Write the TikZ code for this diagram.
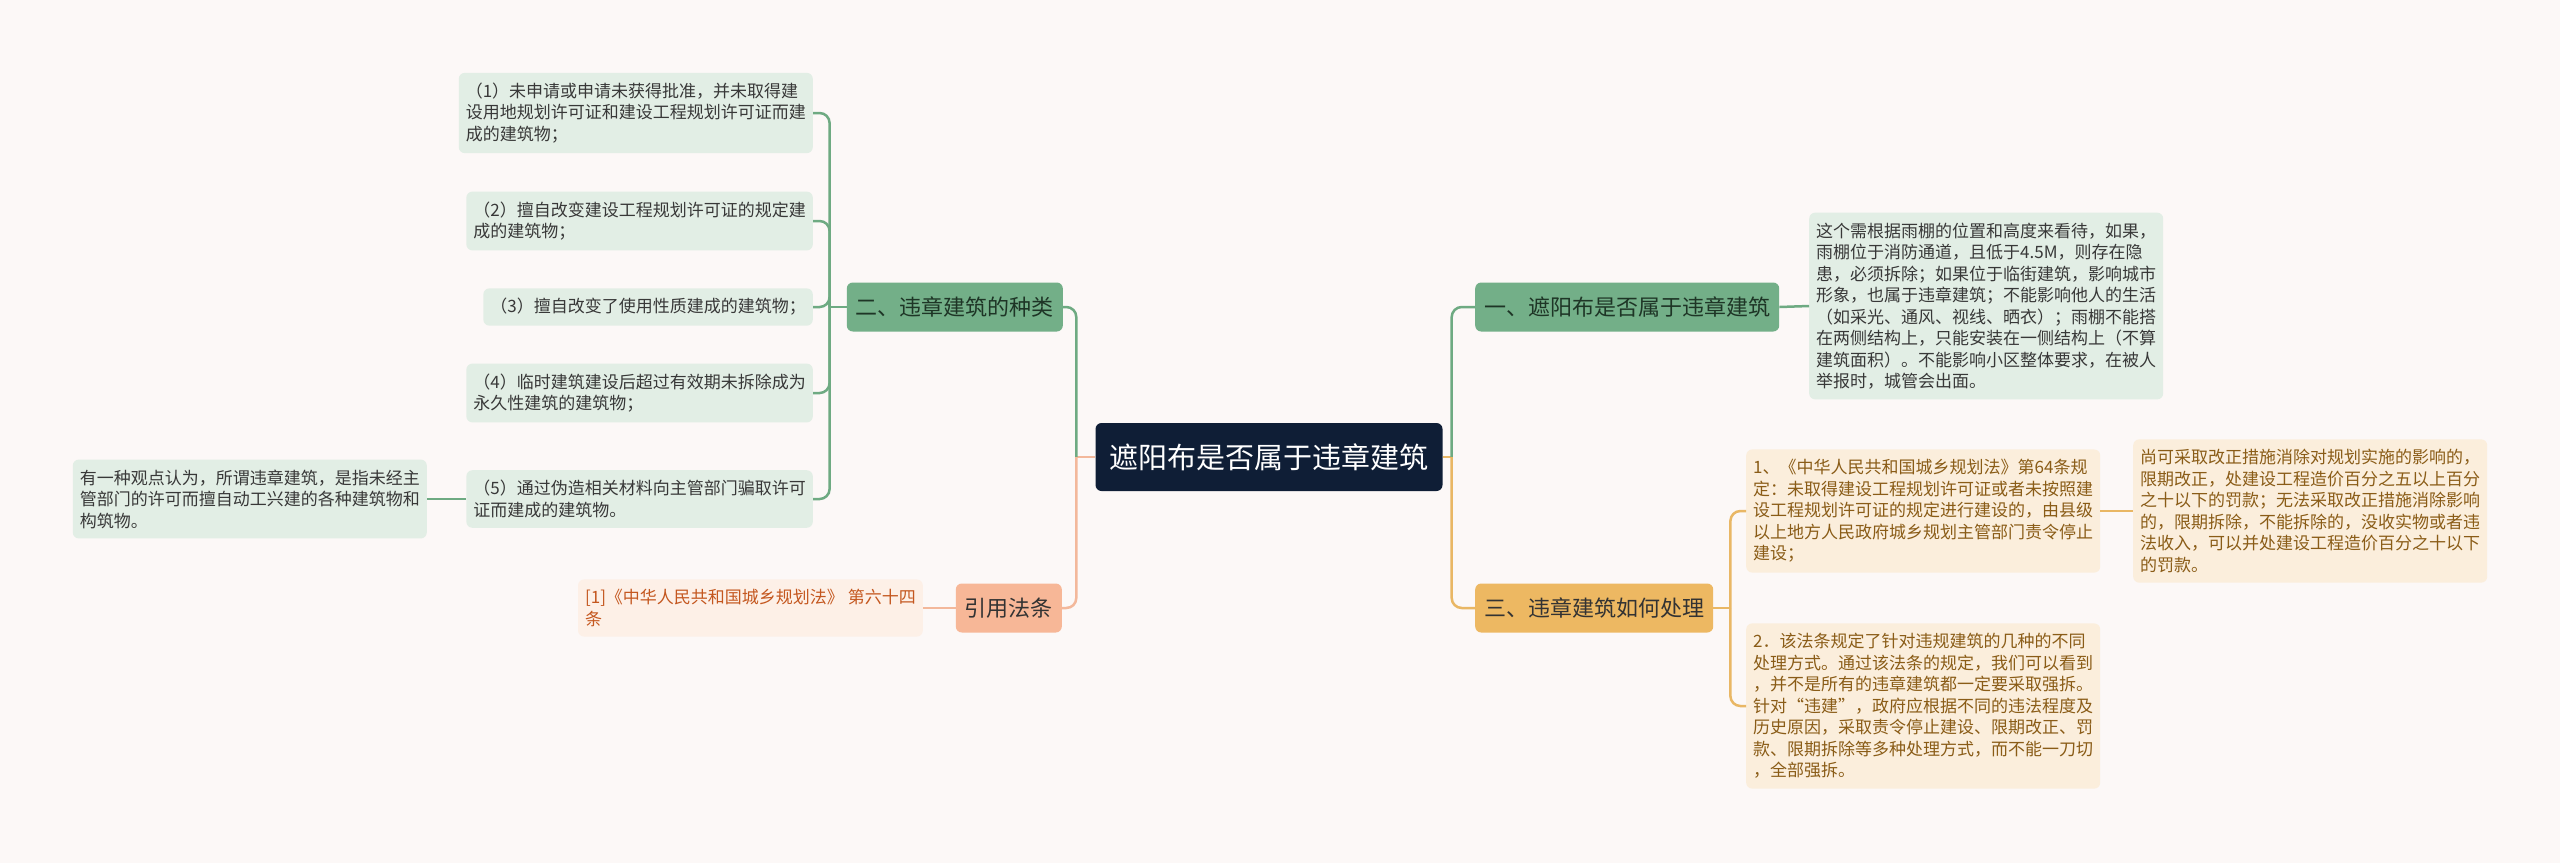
\documentclass[tikz,border=0pt]{standalone}
\usepackage{fontspec}
\setmainfont{Noto Sans CJK SC}
\usepackage{xcolor}
\usepackage{tikz}
\usetikzlibrary{positioning,calc}
\definecolor{paper}{HTML}{FCF8F7}
\definecolor{rootnavy}{HTML}{0F1E36}
\definecolor{sage}{HTML}{73AF88}
\definecolor{sagelight}{HTML}{E2EEE5}
\definecolor{sageline}{HTML}{6EAA82}
\definecolor{sageink}{HTML}{1E3526}
\definecolor{amber}{HTML}{EDB862}
\definecolor{amberlight}{HTML}{FBEEDC}
\definecolor{amberline}{HTML}{E9B765}
\definecolor{amberink}{HTML}{8A5C17}
\definecolor{peach}{HTML}{F7B797}
\definecolor{peachlight}{HTML}{FDF0E7}
\definecolor{peachline}{HTML}{F3B89B}
\definecolor{peachink}{HTML}{C4571F}
\colorlet{leafink}{black!78}
\newcommand{\rootfont}{\fontsize{29pt}{34pt}\selectfont}
\newcommand{\topicfont}{\fontsize{22pt}{26pt}\selectfont}
\newcommand{\leaffont}{\fontsize{17pt}{21.5pt}\selectfont}

\begin{document}
\begin{tikzpicture}[
  x=1pt, y=-1pt,
  every node/.style={font=\leaffont},        % leaf text size by default
  rootbox/.style={rectangle, rounded corners=6pt, fill=rootnavy, text=white,
    font=\rootfont, minimum width=347pt, minimum height=68pt, inner sep=0pt},
  topic/.style={rectangle, rounded corners=6pt, font=\topicfont,
    minimum height=49pt, inner xsep=9pt, inner ysep=0pt},
  leaf/.style={rectangle, rounded corners=6pt, align=left,
    inner xsep=7pt, inner ysep=10pt},
  sageleaf/.style={leaf, fill=sagelight, text=leafink},
  amberleaf/.style={leaf, fill=amberlight, text=amberink},
  peachleaf/.style={leaf, fill=peachlight, text=peachink},
  link/.style={line width=2.5pt, rounded corners=10pt}
]

% ---------- Background ----------
\fill[paper] (0,0) rectangle (2560,863);
\useasboundingbox (0,0) rectangle (2560,863);

% ---------- Root ----------
\node[rootbox] (root) at (1269,457) {遮阳布是否属于违章建筑};

% ---------- Topics ----------
\node[topic, fill=sage, text=sageink, anchor=west] (b1) at (1475,307) {一、遮阳布是否属于违章建筑};
\node[topic, fill=amber, text=black!80, anchor=west] (b3) at (1475,608) {三、违章建筑如何处理};
\node[topic, fill=sage, text=sageink, anchor=east] (b2) at (1063,307) {二、违章建筑的种类};
\node[topic, fill=peach, text=black!80, anchor=east] (cite) at (1062,608) {引用法条};

% ---------- Right leaves ----------
\node[sageleaf, anchor=west] (r1) at (1809,306) {%
  这个需根据雨棚的位置和高度来看待，如果，\\
  雨棚位于消防通道，且低于4.5M，则存在隐\\
  患，必须拆除；如果位于临街建筑，影响城市\\
  形象，也属于违章建筑；不能影响他人的生活\\
  （如采光、通风、视线、晒衣）；雨棚不能搭\\
  在两侧结构上，只能安装在一侧结构上（不算\\
  建筑面积）。不能影响小区整体要求，在被人\\
  举报时，城管会出面。};

\node[amberleaf, anchor=west] (r3a) at (1746,511) {%
  1、《中华人民共和国城乡规划法》第64条规\\
  定：未取得建设工程规划许可证或者未按照建\\
  设工程规划许可证的规定进行建设的，由县级\\
  以上地方人民政府城乡规划主管部门责令停止\\
  建设；};

\node[amberleaf, anchor=west] (r3ax) at (2133,511) {%
  尚可采取改正措施消除对规划实施的影响的，\\
  限期改正，处建设工程造价百分之五以上百分\\
  之十以下的罚款；无法采取改正措施消除影响\\
  的，限期拆除，不能拆除的，没收实物或者违\\
  法收入，可以并处建设工程造价百分之十以下\\
  的罚款。};

\node[amberleaf, anchor=west] (r3b) at (1746,706) {%
  2．该法条规定了针对违规建筑的几种的不同\\
  处理方式。通过该法条的规定，我们可以看到\\
  ，并不是所有的违章建筑都一定要采取强拆。\\
  针对“违建”，政府应根据不同的违法程度及\\
  历史原因，采取责令停止建设、限期改正、罚\\
  款、限期拆除等多种处理方式，而不能一刀切\\
  ，全部强拆。};

% ---------- Left leaves ----------
\node[sageleaf, anchor=east] (k1) at (813,113) {%
  （1）未申请或申请未获得批准，并未取得建\\
  设用地规划许可证和建设工程规划许可证而建\\
  成的建筑物；};
\node[sageleaf, anchor=east] (k2) at (813,221) {%
  （2）擅自改变建设工程规划许可证的规定建\\
  成的建筑物；};
\node[sageleaf, anchor=east] (k3) at (813,307) {（3）擅自改变了使用性质建成的建筑物；};
\node[sageleaf, anchor=east] (k4) at (813,393) {%
  （4）临时建筑建设后超过有效期未拆除成为\\
  永久性建筑的建筑物；};
\node[sageleaf, anchor=east] (k5) at (813,499) {%
  （5）通过伪造相关材料向主管部门骗取许可\\
  证而建成的建筑物。};
\node[sageleaf, anchor=east] (note) at (427,499) {%
  有一种观点认为，所谓违章建筑，是指未经主\\
  管部门的许可而擅自动工兴建的各种建筑物和\\
  构筑物。};

\node[peachleaf, anchor=east] (ref) at (923,608) {%
  [1]《中华人民共和国城乡规划法》 第六十四\\
  条};

% ---------- Junctions ----------
\coordinate (jR) at ($(root.east)+(9,0)$);
\coordinate (jL) at ($(root.west)+(-19,0)$);
\coordinate (jB2) at ($(b2.west)+(-17,0)$);
\coordinate (jB3) at ($(b3.east)+(17,0)$);

% ---------- Links ----------
\draw[link, draw=amberline] (root.east) -- (jR);
\draw[link, draw=sageline] (jR) |- (b1.west);
\draw[link, draw=amberline] (jR) |- (b3.west);
\draw[link, draw=sageline] (b1.east) -- (r1.west);
\draw[link, draw=amberline] (b3.east) -- (jB3);
\draw[link, draw=amberline] (jB3) |- (r3a.west);
\draw[link, draw=amberline] (jB3) |- (r3b.west);
\draw[link, draw=amberline] (r3a.east) -- (r3ax.west);

\draw[link, draw=peachline] (root.west) -- (jL);
\draw[link, draw=sageline] (jL) |- (b2.east);
\draw[link, draw=peachline] (jL) |- (cite.east);
\draw[link, draw=peachline] (cite.west) -- (ref.east);
\draw[link, draw=sageline] (b2.west) -- (jB2);
\foreach \k in {k1,k2,k3,k4,k5}
  \draw[link, draw=sageline] (jB2) |- (\k.east);
\draw[link, draw=sageline] (k5.west) -- (note.east);

\end{tikzpicture}
\end{document}
